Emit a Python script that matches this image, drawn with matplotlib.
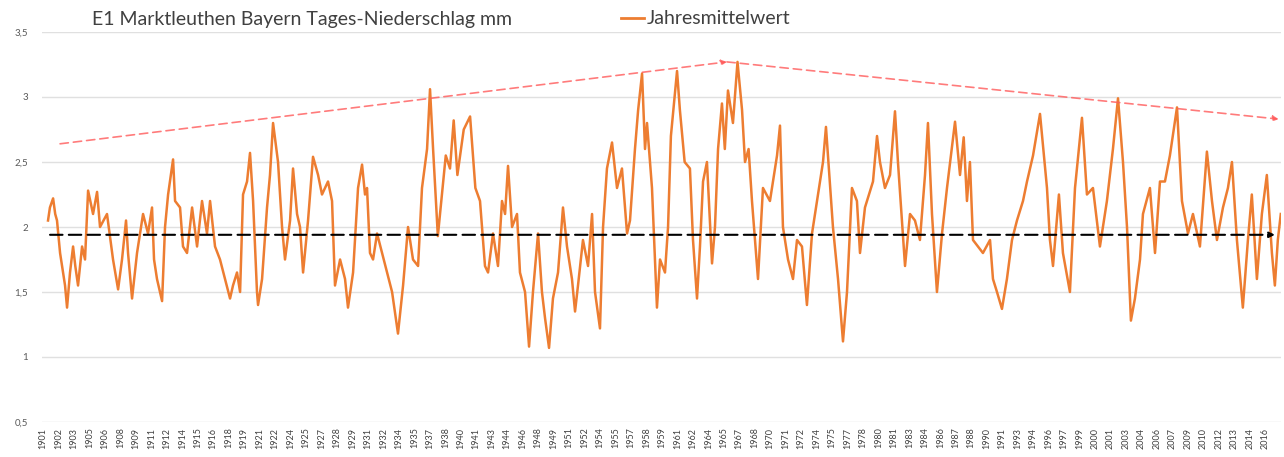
import matplotlib.pyplot as plt
from matplotlib.lines import Line2D

# Jahresmittelwert (gleitendes Mittel)
years = [
    1901.47, 1901.65, 1901.95, 1902.15, 1902.32, 1902.61, 1903.08, 1903.27, 1903.55, 1903.84,
    1904.05, 1904.31, 1904.69, 1904.97, 1905.26, 1905.73, 1906.11, 1906.39, 1907.05, 1907.62,
    1908.10, 1908.47, 1908.85, 1909.04, 1909.42, 1909.89, 1910.46, 1910.93, 1911.31, 1911.50,
    1911.78, 1912.26, 1912.54, 1912.83, 1913.30, 1913.49, 1913.96, 1914.24, 1914.62, 1915.10,
    1915.57, 1916.04, 1916.51, 1916.80, 1917.27, 1917.74, 1918.22, 1918.69, 1918.97, 1919.35,
    1919.64, 1919.92, 1920.30, 1920.58, 1920.87, 1921.24, 1921.34, 1921.72, 1922.19, 1922.47,
    1922.76, 1923.23, 1923.61, 1923.89, 1924.37, 1924.65, 1925.03, 1925.31, 1925.60, 1926.07,
    1926.54, 1927.02, 1927.39, 1927.96, 1928.34, 1928.62, 1929.10, 1929.57, 1929.85, 1930.33,
    1930.80, 1931.18, 1931.46, 1931.65, 1931.93, 1932.22, 1932.60, 1933.07, 1933.54, 1934.02,
    1934.58, 1935.06, 1935.53, 1936.00, 1936.48, 1936.85, 1937.33, 1937.61, 1937.90, 1938.35,
    1938.80, 1939.10, 1939.50, 1939.85, 1940.20, 1940.80, 1941.40, 1941.90, 1942.34, 1942.81,
    1943.10, 1943.57, 1944.04, 1944.42, 1944.71, 1944.99, 1945.37, 1945.84, 1946.12, 1946.60,
    1946.98, 1947.35, 1947.83, 1948.20, 1948.49, 1948.87, 1949.24, 1949.72, 1950.19, 1950.57,
    1951.04, 1951.33, 1951.61, 1952.08, 1952.56, 1952.94, 1953.22, 1953.69, 1953.98, 1954.35,
    1954.83, 1955.30, 1955.77, 1956.25, 1956.53, 1957.00, 1957.30, 1957.67, 1957.95, 1958.14,
    1958.61, 1959.08, 1959.37, 1959.84, 1960.13, 1960.40, 1960.98, 1961.25, 1961.70, 1962.20,
    1962.49, 1962.87, 1963.15, 1963.44, 1963.81, 1964.29, 1964.57, 1964.86, 1965.23, 1965.50,
    1965.80, 1966.27, 1966.70, 1967.13, 1967.41, 1967.75, 1968.07, 1968.64, 1969.11, 1969.77,
    1970.44, 1970.72, 1971.00, 1971.48, 1971.95, 1972.33, 1972.80, 1973.27, 1973.75, 1974.32,
    1974.79, 1975.07, 1975.73, 1976.21, 1976.68, 1977.06, 1977.53, 1978.00, 1978.29, 1978.76,
    1979.52, 1979.90, 1980.18, 1980.65, 1981.13, 1981.60, 1981.88, 1982.55, 1983.02, 1983.49,
    1983.96, 1984.44, 1984.72, 1985.10, 1985.57, 1986.05, 1986.52, 1987.28, 1987.75, 1988.10,
    1988.41, 1988.69, 1988.98, 1989.45, 1989.92, 1990.59, 1990.87, 1991.25, 1991.72, 1992.19,
    1992.67, 1993.14, 1993.71, 1994.09, 1994.66, 1995.32, 1995.98, 1996.26, 1996.55, 1997.11,
    1997.49, 1998.15, 1998.63, 1999.29, 1999.76, 2000.33, 2000.99, 2001.65, 2002.22, 2002.70,
    2003.17, 2003.55, 2003.92, 2004.30, 2004.78, 2005.06, 2005.72, 2006.20, 2006.67, 2007.14,
    2007.61, 2008.28, 2008.75, 2009.32, 2009.79, 2010.45, 2011.11, 2011.59, 2012.06, 2012.63,
    2013.10, 2013.48, 2013.95, 2014.51, 2014.99, 2015.36, 2015.84, 2016.31, 2016.78, 2017.26,
    2017.54, 2017.82, 2018.10,
]
values = [
    2.05, 2.15, 2.22, 2.10, 2.05, 1.80, 1.55, 1.38, 1.65, 1.85,
    1.70, 1.55, 1.85, 1.75, 2.28, 2.10, 2.27, 2.00, 2.10, 1.75,
    1.52, 1.75, 2.05, 1.80, 1.45, 1.80, 2.10, 1.95, 2.15, 1.75,
    1.60, 1.43, 2.00, 2.25, 2.52, 2.20, 2.15, 1.85, 1.80, 2.15,
    1.85, 2.20, 1.95, 2.20, 1.85, 1.75, 1.60, 1.45, 1.55, 1.65,
    1.50, 2.25, 2.35, 2.57, 2.20, 1.50, 1.40, 1.60, 2.15, 2.40,
    2.80, 2.50, 2.00, 1.75, 2.05, 2.45, 2.10, 2.00, 1.65, 2.05,
    2.54, 2.40, 2.25, 2.35, 2.20, 1.55, 1.75, 1.60, 1.38, 1.65,
    2.30, 2.48, 2.25, 2.30, 1.80, 1.75, 1.95, 1.80, 1.65, 1.50,
    1.18, 1.55, 2.00, 1.75, 1.70, 2.30, 2.60, 3.06, 2.60, 1.93,
    2.30, 2.55, 2.45, 2.82, 2.40, 2.75, 2.85, 2.30, 2.20, 1.70,
    1.65, 1.95, 1.70, 2.20, 2.10, 2.47, 2.00, 2.10, 1.65, 1.50,
    1.08, 1.50, 1.95, 1.50, 1.30, 1.07, 1.45, 1.65, 2.15, 1.85,
    1.60, 1.35, 1.55, 1.90, 1.70, 2.10, 1.50, 1.22, 2.00, 2.45,
    2.65, 2.30, 2.45, 1.95, 2.05, 2.60, 2.90, 3.18, 2.60, 2.80,
    2.30, 1.38, 1.75, 1.65, 2.00, 2.70, 3.20, 2.90, 2.50, 2.45,
    1.90, 1.45, 1.85, 2.35, 2.50, 1.72, 2.00, 2.60, 2.95, 2.60,
    3.05, 2.80, 3.27, 2.90, 2.50, 2.60, 2.20, 1.60, 2.30, 2.20,
    2.55, 2.78, 2.00, 1.75, 1.60, 1.90, 1.85, 1.40, 1.95, 2.25,
    2.50, 2.77, 2.00, 1.60, 1.12, 1.50, 2.30, 2.20, 1.80, 2.15,
    2.35, 2.70, 2.50, 2.30, 2.40, 2.89, 2.50, 1.70, 2.10, 2.05,
    1.90, 2.40, 2.80, 2.10, 1.50, 1.95, 2.30, 2.81, 2.40, 2.69,
    2.20, 2.50, 1.90, 1.85, 1.80, 1.90, 1.60, 1.50, 1.37, 1.60,
    1.90, 2.05, 2.20, 2.35, 2.55, 2.87, 2.30, 1.90, 1.70, 2.25,
    1.80, 1.50, 2.30, 2.84, 2.25, 2.30, 1.85, 2.20, 2.60, 2.99,
    2.50, 2.00, 1.28, 1.45, 1.75, 2.10, 2.30, 1.80, 2.35, 2.35,
    2.55, 2.92, 2.20, 1.95, 2.10, 1.85, 2.58, 2.20, 1.90, 2.15,
    2.30, 2.50, 1.90, 1.38, 1.90, 2.25, 1.60, 2.10, 2.40, 1.80,
    1.55, 1.90, 2.10,
]

# Langjaehriges Mittel
mean_value = 1.94
mean_span = [1901.66, 2017.54]

# Trendlinien (Hochpunkte)
trend_years = [1902.61, 1965.70, 2017.90]
trend_values = [2.64, 3.27, 2.83]

tick_labels = [
    '1901', '1902', '1903', '1905', '1906', '1908', '1909', '1911', '1912', '1914',
    '1915', '1916', '1918', '1919', '1921', '1922', '1924', '1925', '1927', '1928',
    '1929', '1931', '1932', '1934', '1935', '1937', '1938', '1940', '1941', '1943',
    '1944', '1946', '1948', '1949', '1951', '1952', '1954', '1955', '1957', '1958',
    '1959', '1961', '1962', '1964', '1965', '1967', '1968', '1970', '1971', '1972',
    '1974', '1975', '1977', '1978', '1980', '1981', '1983', '1984', '1986', '1987',
    '1988', '1990', '1991', '1993', '1994', '1996', '1997', '1999', '2000', '2001',
    '2003', '2004', '2006', '2007', '2009', '2010', '2012', '2013', '2014', '2016',
]
tick_step = 1.4636
tick_pos = [1901.0 + k * tick_step for k in range(len(tick_labels))]

plt.rcParams['font.family'] = ['Lato', 'DejaVu Sans']

fig = plt.figure(figsize=(12.84, 4.57), dpi=100)
ax = fig.add_axes([42 / 1284, 1 - 422 / 457, (1281 - 42) / 1284, (422 - 32) / 457])

orange = '#ED7D31'
line, = ax.plot(years, values, color=orange, lw=1.8, zorder=3)

# Mittelwert-Linie
ax.annotate('', xy=(mean_span[1], mean_value), xytext=(mean_span[0], mean_value),
            arrowprops=dict(arrowstyle='-|>', color='black', lw=1.5, linestyle=(0, (6, 3)),
                            mutation_scale=8, shrinkA=0, shrinkB=0), zorder=4)

# Trendpfeile
red = '#FF5A5A'
for i in range(2):
    ax.annotate('', xy=(trend_years[i + 1], trend_values[i + 1]),
                xytext=(trend_years[i], trend_values[i]),
                arrowprops=dict(arrowstyle='-|>', color=red, lw=1.2, alpha=0.8,
                                linestyle=(0, (5, 3)), mutation_scale=8,
                                shrinkA=0, shrinkB=0), zorder=4)

ax.set_xlim(1900.9, 2018.12)
ax.set_ylim(0.5, 3.5)
ax.set_yticks([0.5, 1, 1.5, 2, 2.5, 3, 3.5])
ax.set_yticklabels(['0,5', '1', '1,5', '2', '2,5', '3', '3,5'], fontsize=7, color='#595959')
ax.set_xticks(tick_pos)
ax.set_xticklabels(tick_labels, rotation=90, fontsize=6.5, color='#404040')
ax.tick_params(length=0)
ax.tick_params(axis='y', pad=10)
ax.tick_params(axis='x', pad=4)
ax.grid(axis='y', color='#E0E0E0', lw=1)
for s in ax.spines.values():
    s.set_visible(False)

fig.text(92 / 1284, 1 - 19 / 457, 'E1 Marktleuthen Bayern Tages-Niederschlag mm',
         fontsize=14, color='#404040', va='center', ha='left')
handle = Line2D([], [], color=orange, lw=2)
fig.legend(handles=[handle], labels=['Jahresmittelwert'], loc='center left',
           bbox_to_anchor=(603 / 1284, 1 - 19 / 457), frameon=False, fontsize=14,
           handlelength=1.2, handletextpad=0.15, labelcolor='#404040')

fig.savefig('out.png', dpi=100, facecolor='white')
